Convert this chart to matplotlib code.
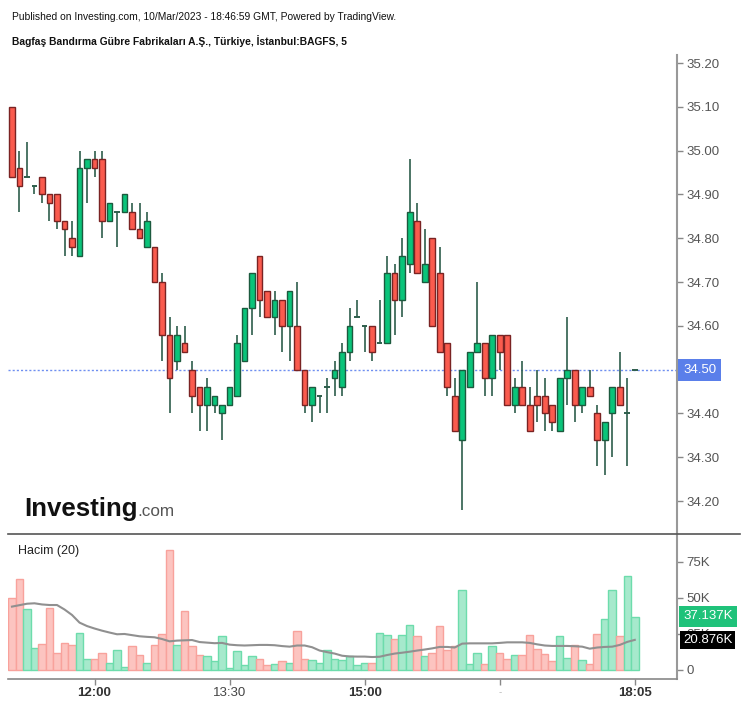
import matplotlib
matplotlib.use("Agg")
import matplotlib.pyplot as plt
from matplotlib.lines import Line2D
from matplotlib import font_manager

plt.rcParams['font.family'] = ['Liberation Sans', 'DejaVu Sans']

# 5 minute bars, BAGFS
opens = [35.10, 34.96, 34.94, 34.92, 34.94, 34.90, 34.90, 34.84, 34.80, 34.76,
         34.96, 34.98, 34.98, 34.84, 34.86, 34.86, 34.86, 34.82, 34.78, 34.78,
         34.70, 34.58, 34.52, 34.56, 34.50, 34.46, 34.42, 34.42, 34.40, 34.42,
         34.44, 34.52, 34.64, 34.76, 34.68, 34.62, 34.66, 34.60, 34.60, 34.50,
         34.42, 34.44, 34.46, 34.48, 34.46, 34.54, 34.62, 34.60, 34.60, 34.56,
         34.56, 34.72, 34.66, 34.74, 34.84, 34.70, 34.80, 34.72, 34.56, 34.44,
         34.34, 34.46, 34.54, 34.56, 34.48, 34.58, 34.58, 34.42, 34.46, 34.42,
         34.44, 34.44, 34.42, 34.36, 34.48, 34.50, 34.42, 34.46, 34.40, 34.34,
         34.40, 34.46, 34.40, 34.50]
highs = [35.10, 35.00, 35.02, 34.92, 34.94, 34.90, 34.90, 34.84, 34.84, 35.00,
         34.98, 35.00, 35.00, 34.88, 34.86, 34.90, 34.88, 34.88, 34.86, 34.78,
         34.72, 34.62, 34.60, 34.60, 34.52, 34.46, 34.48, 34.44, 34.42, 34.46,
         34.58, 34.64, 34.72, 34.76, 34.68, 34.68, 34.66, 34.68, 34.70, 34.50,
         34.46, 34.44, 34.48, 34.52, 34.56, 34.64, 34.66, 34.60, 34.60, 34.66,
         34.76, 34.74, 34.80, 34.98, 34.88, 34.82, 34.80, 34.78, 34.56, 34.48,
         34.50, 34.54, 34.70, 34.56, 34.58, 34.58, 34.58, 34.48, 34.52, 34.46,
         34.50, 34.48, 34.42, 34.48, 34.62, 34.50, 34.46, 34.50, 34.42, 34.38,
         34.46, 34.54, 34.48, 34.50]
lows = [34.94, 34.86, 34.94, 34.90, 34.88, 34.84, 34.82, 34.76, 34.76, 34.76,
        34.88, 34.94, 34.80, 34.84, 34.78, 34.86, 34.82, 34.80, 34.78, 34.70,
        34.52, 34.40, 34.50, 34.54, 34.40, 34.36, 34.36, 34.40, 34.34, 34.42,
        34.44, 34.52, 34.58, 34.62, 34.62, 34.58, 34.54, 34.52, 34.50, 34.40,
        34.38, 34.40, 34.40, 34.44, 34.44, 34.52, 34.62, 34.54, 34.52, 34.56,
        34.56, 34.58, 34.62, 34.72, 34.72, 34.70, 34.60, 34.54, 34.44, 34.36,
        34.18, 34.46, 34.54, 34.44, 34.44, 34.50, 34.42, 34.40, 34.42, 34.36,
        34.38, 34.36, 34.36, 34.36, 34.42, 34.38, 34.40, 34.44, 34.28, 34.26,
        34.30, 34.42, 34.28, 34.50]
closes = [34.94, 34.92, 34.94, 34.92, 34.90, 34.88, 34.84, 34.82, 34.78, 34.96,
          34.98, 34.96, 34.84, 34.88, 34.86, 34.90, 34.82, 34.80, 34.84, 34.70,
          34.58, 34.48, 34.58, 34.54, 34.44, 34.42, 34.46, 34.44, 34.42, 34.46,
          34.56, 34.64, 34.72, 34.66, 34.62, 34.66, 34.60, 34.68, 34.50, 34.42,
          34.46, 34.44, 34.46, 34.50, 34.54, 34.60, 34.62, 34.60, 34.54, 34.56,
          34.72, 34.66, 34.76, 34.86, 34.72, 34.74, 34.60, 34.54, 34.46, 34.36,
          34.50, 34.54, 34.56, 34.48, 34.58, 34.54, 34.42, 34.46, 34.42, 34.36,
          34.42, 34.40, 34.38, 34.48, 34.50, 34.42, 34.46, 34.44, 34.34, 34.38,
          34.46, 34.42, 34.40, 34.50]

# volume in thousands
volume = [50.2, 63.2, 42.4, 15.5, 18.1, 43.1, 12.0, 19.0, 17.4, 25.9,
          7.6, 7.6, 12.0, 5.1, 13.9, 1.9, 16.4, 10.2, 5.1, 17.4,
          25.0, 83.1, 17.4, 41.0, 16.4, 10.2, 9.5, 6.0, 23.4, 1.6,
          13.0, 3.2, 9.5, 7.6, 3.2, 4.2, 6.0, 5.1, 26.9, 7.6,
          6.7, 5.1, 13.9, 7.6, 6.7, 9.5, 3.2, 5.1, 5.1, 25.9,
          24.3, 21.5, 24.3, 31.0, 23.4, 9.5, 12.0, 30.3, 13.9, 16.4,
          55.6, 4.2, 12.0, 4.2, 16.4, 12.0, 7.6, 10.2, 10.2, 24.1,
          14.6, 11.1, 6.0, 23.4, 8.6, 17.1, 6.7, 4.2, 25.0, 35.4,
          55.3, 23.4, 65.1, 37.1]
vol_ma = [44.0, 45.0, 46.0, 46.3, 45.5, 45.1, 45.1, 42.0, 38.2, 32.9,
          30.5, 28.8, 27.3, 26.0, 24.8, 25.0, 24.2, 23.4, 23.0, 22.7,
          21.5, 19.9, 20.4, 20.6, 20.8, 19.4, 19.0, 18.6, 18.8, 17.6,
          17.2, 17.0, 17.2, 17.4, 17.4, 17.2, 16.6, 16.2, 17.0, 17.0,
          15.8, 13.5, 12.4, 11.4, 9.9, 9.4, 9.3, 9.3, 9.0, 9.2,
          10.4, 11.4, 12.0, 12.7, 13.5, 14.2, 15.0, 16.0, 16.0, 15.6,
          18.3, 18.5, 18.5, 18.5, 18.5, 18.8, 19.2, 19.2, 19.2, 18.8,
          17.8, 17.0, 16.7, 16.7, 16.7, 16.5, 16.2, 14.8, 15.6, 16.0,
          16.2, 17.4, 19.5, 20.9]

time_ticks = [11, 29, 47, 65, 83]
time_labels = ["12:00", "13:30", "15:00", "-", "18:05"]
price_ticks = [35.20, 35.10, 35.00, 34.90, 34.80, 34.70, 34.60, 34.50, 34.40, 34.30, 34.20]
vol_ticks = [0, 25, 50, 75]
vol_labels = ["0", "25K", "50K", "75K"]
last_price = 34.50
last_vol = 37.137
last_ma = 20.876

W, H = 747, 707
fig = plt.figure(figsize=(W / 100, H / 100), dpi=100)

def box(x0, y0, x1, y1):
    return [x0 / W, 1 - y1 / H, (x1 - x0) / W, (y1 - y0) / H]

ax = fig.add_axes(box(8, 55, 677, 534))
axv = fig.add_axes(box(8, 534, 677, 679), sharex=ax)

n = len(opens)
xs = list(range(n))
RED, RED_EDGE = '#fa5b4e', '#7a2323'
GREEN, GREEN_EDGE = '#0ac47a', '#1c5a3e'
WICK = '#2e5e4c'
bw = 0.76

for i in xs:
    o, h, l, c = opens[i], highs[i], lows[i], closes[i]
    up = c >= o
    ax.vlines(i, l, h, color=WICK, lw=1.2, zorder=2)
    if abs(c - o) < 1e-9:
        ax.hlines(o, i - bw / 2, i + bw / 2, color=WICK, lw=1.4, zorder=3)
    else:
        ax.bar(i, abs(c - o), bottom=min(o, c), width=bw,
               color=GREEN if up else RED, edgecolor=GREEN_EDGE if up else RED_EDGE,
               linewidth=1.0, zorder=3)

ax.axhline(last_price, color='#6f8ff0', lw=1.0, ls=(0, (1.5, 1.5)), zorder=1)

ax.set_xlim(-0.53, 88.63)
ax.set_ylim(34.1247, 35.2183)
ax.yaxis.tick_right()
ax.set_yticks(price_ticks)
# the 34.50 label sits under the last-price tag
ax.set_yticklabels(["" if abs(p - last_price) < 1e-9 else "%.2f" % p for p in price_ticks])
ax.tick_params(axis='y', direction='out', length=4, width=1, color='#888888',
               labelcolor='#555555', labelsize=9.5, pad=3)
ax.tick_params(axis='x', bottom=False, labelbottom=False)
for s in ['top', 'left', 'bottom']:
    ax.spines[s].set_visible(False)
ax.spines['right'].set_color('#999999')
ax.spines['right'].set_linewidth(1.5)

ax.text(1.0 + 6 / 669, last_price, "%.2f" % last_price, transform=ax.get_yaxis_transform(),
        color='white', fontsize=9.5, va='center', ha='left', clip_on=False,
        bbox=dict(boxstyle='square,pad=0.38', fc='#5a7fea', ec='none'))

# volume pane
vcolors = ['#a6e9cc' if closes[i] >= opens[i] else '#fcc4c0' for i in xs]
vedges = ['#6ddcac' if closes[i] >= opens[i] else '#f8a29c' for i in xs]
axv.bar(xs, volume, width=1.0, color=vcolors, edgecolor=vedges, linewidth=1.0, zorder=2)
axv.plot(xs, vol_ma, color='#909090', lw=1.5, zorder=3)

axv.set_ylim(-6.25, 94.4)
axv.yaxis.tick_right()
axv.set_yticks(vol_ticks)
axv.set_yticklabels(vol_labels)
axv.tick_params(axis='y', direction='out', length=4, width=1, color='#888888',
                labelcolor='#555555', labelsize=9.5, pad=3)
axv.set_xticks(time_ticks)
axv.set_xticklabels(time_labels)
axv.tick_params(axis='x', direction='out', length=4, width=1, color='#888888',
                labelcolor='#444444', labelsize=9.5, pad=2)
for lab in axv.get_xticklabels():
    if lab.get_text() in ("12:00", "15:00", "18:05"):
        lab.set_fontweight('bold')
        lab.set_color('#333333')
    elif lab.get_text() == "-":
        lab.set_color('#bbbbbb')
        lab.set_fontsize(7)
axv.spines['top'].set_visible(False)
axv.spines['left'].set_visible(False)
axv.spines['right'].set_color('#999999')
axv.spines['right'].set_linewidth(1.5)
axv.spines['bottom'].set_color('#888888')
axv.spines['bottom'].set_linewidth(1.2)

axv.text(1.0 + 6 / 669, last_vol, "%.3fK" % last_vol, transform=axv.get_yaxis_transform(),
         color='white', fontsize=9.5, va='center', ha='left', clip_on=False, zorder=5,
         bbox=dict(boxstyle='square,pad=0.32', fc='#1fc27a', ec='none'))
axv.text(1.0 + 6 / 669, last_ma, "%.3fK" % last_ma, transform=axv.get_yaxis_transform(),
         color='white', fontsize=9.5, va='center', ha='left', clip_on=False, zorder=6,
         bbox=dict(boxstyle='square,pad=0.2', fc='#000000', ec='none'))
axv.text(10 / 669, 0.88, "Hacim (20)", transform=axv.transAxes, fontsize=9,
         color='#222222', va='center', ha='left')

# separator between panes
fig.add_artist(Line2D([8 / W, 740 / W], [1 - 534 / H, 1 - 534 / H], color='#555555', lw=1.2))

# header: narrow font if one is installed, else a smaller regular one
names = {f.name for f in font_manager.fontManager.ttflist}
if 'Liberation Sans Narrow' in names:
    head_family, head_size = ['Liberation Sans Narrow', 'Liberation Sans'], 8.4
else:
    head_family, head_size = ['Liberation Sans', 'DejaVu Sans'], 7.4
fig.text(12 / W, 1 - 20 / H, "Published on Investing.com, 10/Mar/2023 - 18:46:59 GMT, Powered by TradingView.",
         fontsize=head_size, family=head_family, color='#111111', va='baseline', ha='left')
fig.text(12 / W, 1 - 45 / H, "Bagfaş Bandırma Gübre Fabrikaları A.Ş., Türkiye, İstanbul:BAGFS, 5",
         fontsize=head_size, family=head_family, fontweight='bold', color='#111111',
         va='baseline', ha='left')

# logo
fig.text(24 / W, 1 - 516 / H, "Investing", fontsize=18.6, fontweight='bold', color='#111111',
         va='baseline', ha='left')
fig.text(137 / W, 1 - 516 / H, ".com", fontsize=12.3, color='#555555', va='baseline', ha='left')

fig.savefig("out.png", dpi=100)
